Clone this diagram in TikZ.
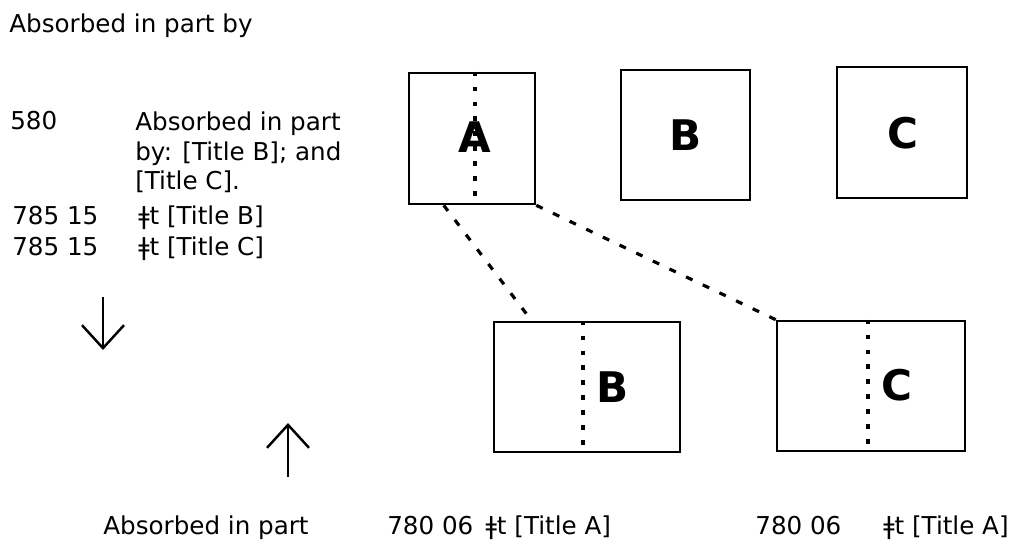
\documentclass[tikz,border=0pt]{standalone}
\usepackage{fontspec}
\setmainfont{DejaVu Sans}
\usetikzlibrary{arrows.meta,positioning,calc}

\begin{document}
\begin{tikzpicture}[
    x=0.02cm, y=-0.02cm,
    record/.style={rectangle, draw=black, line width=1.5pt, minimum height=2.6cm, inner sep=0pt},
    letter/.style={font=\fontsize{24}{28}\selectfont\bfseries, inner sep=0pt},
    txt/.style={font=\fontsize{14}{17}\selectfont, inner sep=0pt, anchor=base west},
    divider/.style={line width=2pt, dash pattern=on 2.5pt off 6pt},
    link/.style={line width=1.8pt, dash pattern=on 4pt off 6.5pt},
    arrow/.style={-{Straight Barb[length=4.6mm,width=8.4mm]}, line width=1.4pt}
]
\useasboundingbox (0,0) rectangle (1031,543);

% Left column: the record for title A
\node[txt] (heading) at (9,33) {Absorbed in part by};
\node[txt] (tag580) at (10,130) {580};
\node[txt, align=left] (note580) at (135,190) {Absorbed in part\\by: [Title B]; and\\{}[Title C].};
\node[txt] (tagB) at (12,225) {785 15};
\node[txt] (fieldB) at (138,225) {ǂt [Title B]};
\node[txt] (tagC) at (12,256) {785 15};
\node[txt] (fieldC) at (138,256) {ǂt [Title C]};

% Arrows
\coordinate (downtop) at (103,297);
\coordinate (downend) at (103,350);
\coordinate (uptop) at (288,477);
\coordinate (upend) at (288,423);
\draw[arrow] (downtop) -- (downend);
\draw[arrow] (uptop) -- (upend);
\node[txt] (footer) at (103,535) {Absorbed in part};

% Top row records
\node[record, minimum width=2.52cm, minimum height=2.62cm] (boxA) at (472,138.5) {};
\node[record, minimum width=2.58cm] (boxB) at (685.5,135) {};
\node[record, minimum width=2.6cm, minimum height=2.62cm] (boxC) at (902,132.5) {};
\draw[divider] (475,0 |- boxA.north) -- (475,0 |- boxA.south);
\node[letter] (letterA) at (475,137) {A};
\node[letter] (letterB) at (686,135) {B};
\node[letter] (letterC) at (903,133) {C};

% Bottom row records
\node[record, minimum width=3.72cm] (boxB2) at (587,387) {};
\node[record, minimum width=3.76cm] (boxC2) at (871,386) {};
\node[letter] (letterB2) at (613,387) {B};
\node[letter] (letterC2) at (897,385) {C};
\draw[divider] ([xshift=-0.08cm]boxB2.north) -- ([xshift=-0.08cm]boxB2.south);
\draw[divider] ([xshift=-0.06cm]boxC2.north) -- ([xshift=-0.06cm]boxC2.south);

% Links from A
\draw[link] ([xshift=0.72cm]boxA.south west) -- ([xshift=0.78cm]boxB2.north west);
\draw[link] (boxA.south east) -- (boxC2.north west);

% Fields under the new records
\node[txt] (fieldB2) at (387,535) {780 06\enspace ǂt [Title A]};
\node[txt] (tagC2) at (755,535) {780 06};
\node[txt] (fieldC2) at (883,535) {ǂt [Title A]};

\end{tikzpicture}
\end{document}
